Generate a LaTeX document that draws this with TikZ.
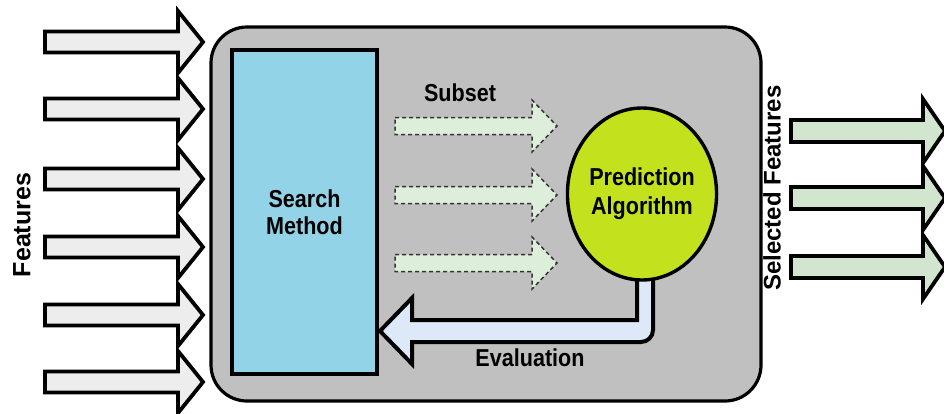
\documentclass[tikz,border=0pt]{standalone}
\usepackage{fontspec}
\setmainfont{Liberation Sans}
\usetikzlibrary{shapes.geometric}
\definecolor{boxgray}{HTML}{C0C0C0}
\definecolor{searchblue}{HTML}{93D3E8}
\definecolor{predgreen}{HTML}{C3E21D}
\definecolor{evalblue}{HTML}{DDE9F8}
\definecolor{subgreen}{HTML}{DDEFDB}
\definecolor{outgreen}{HTML}{D2E5CF}
\definecolor{ingray}{HTML}{EDEDED}
\newcommand{\hs}[1]{\scalebox{0.88}[1]{#1}}
\tikzset{
  inarrow/.style={draw=black, fill=ingray, line width=3.8pt, line join=miter},
  outarrow/.style={draw=black, fill=outgreen, line width=3.8pt, line join=miter},
  subarrow/.style={draw=black!80, fill=subgreen, line width=1.5pt, dash pattern=on 4pt off 3pt, line join=miter},
  evalarrow/.style={draw=black, fill=evalblue, line width=4pt, line join=miter},
  lbl/.style={font=\bfseries\fontsize{24.5}{27}\selectfont, text=black, inner sep=0pt, align=center},
  vlbl/.style={font=\bfseries\fontsize{24}{27}\selectfont, text=black, inner sep=0pt, rotate=90},
  searchbox/.style={draw=black, fill=searchblue, line width=3.6pt, minimum width=145pt, minimum height=324pt, inner sep=0pt, align=center, font=\bfseries\fontsize{24.5}{27}\selectfont},
  predbox/.style={ellipse, draw=black, fill=predgreen, line width=3.4pt, minimum width=140pt, minimum height=172pt, inner sep=0pt, align=center, font=\bfseries\fontsize{24.5}{29}\selectfont}
}
\begin{document}
\begin{tikzpicture}[x=1pt, y=-1pt]
\useasboundingbox (0,0) rectangle (944,413);
\fill[white] (0,0) rectangle (944,413);

% input arrows
\foreach \c in {42,109,179,247,315,382}
  \draw[inarrow] (45,\c-10.5) -- (178,\c-10.5) -- (178,\c-31) -- (203,\c) -- (178,\c+31) -- (178,\c+10.5) -- (45,\c+10.5) -- cycle;

% main box
\draw[line width=3.2pt, fill=boxgray, rounded corners=36pt] (211,27) rectangle (761,401);

% search method
\node[searchbox] (search) at (304.5,212) {\hs{Search}\\\hs{Method}};

% subset arrows
\foreach \c in {126,195,263}
  \draw[subarrow] (395,\c-8.5) -- (532,\c-8.5) -- (532,\c-26) -- (557,\c) -- (532,\c+26) -- (532,\c+8.5) -- (395,\c+8.5) -- cycle;
\node[lbl] (subset) at (460,93) {\hs{Subset}};

% evaluation arrow
\draw[evalarrow] (637,262) -- (637,320) -- (412,320) -- (412,298) -- (380,331) -- (412,364) -- (412,342) [rounded corners=12pt] -- (653,342) -- (653,262);
\node[lbl] (eval) at (530,358) {\hs{Evaluation}};

% prediction algorithm
\node[predbox] (pred) at (642,194) {\hs{Prediction}\\\hs{Algorithm}};

% output arrows
\foreach \c in {131,198,267}
  \draw[outarrow] (791,\c-11) -- (923,\c-11) -- (923,\c-32) -- (945,\c) -- (923,\c+32) -- (923,\c+11) -- (791,\c+11) -- cycle;

% side labels
\node[vlbl, font=\bfseries\fontsize{25}{27}\selectfont] (feat) at (22,225) {Features};
\node[vlbl] (selfeat) at (772,188) {Selected Features};
\end{tikzpicture}
\end{document}
